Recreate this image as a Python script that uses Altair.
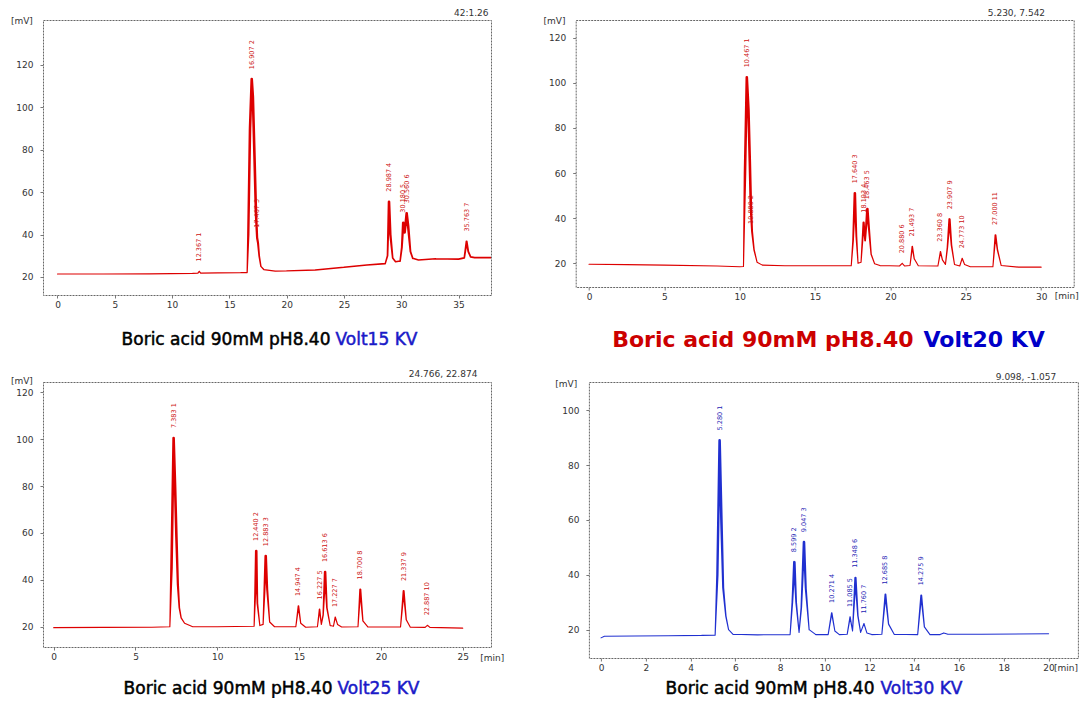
import altair as alt
import pandas as pd

FONT = "DejaVu Sans"
RED = "#dd0000"
BLUE = "#1a1ac8"
LBL_RED = "#cc1010"
LBL_BLUE = "#1a1ab4"

# ---------------- Panel 1 : Volt 15 KV ----------------
p1_time = [0, 4, 8, 11.8, 12.25, 12.37, 12.5, 14, 16.0, 16.55, 16.65, 16.8, 16.95, 17.05,
           17.2, 17.32, 17.42, 17.5, 17.6, 17.75, 18.0, 19.0, 20.0, 22.5, 25.0, 27.0, 28.6,
           28.8, 28.93, 29.05, 29.25, 29.5, 29.9, 30.05, 30.17, 30.3, 30.47, 30.6, 30.8,
           31.0, 31.5, 33.0, 35.0, 35.5, 35.7, 35.85, 36.05, 36.4, 37.9]
p1_mv = [21.4, 21.4, 21.5, 21.7, 21.8, 22.6, 21.8, 21.9, 22.0, 22.1, 40, 90, 113.3, 105,
         75, 50, 38.5, 36, 30, 25, 23.5, 22.8, 22.9, 23.3, 24.6, 25.7, 26.3,
         30, 55.5, 40, 29, 27.2, 27.5, 34, 45.6, 41, 50.0, 44, 32,
         28.8, 28.0, 28.6, 28.4, 29.0, 36.7, 32, 29.5, 29.1, 29.1]
p1_pk_time = [12.37, 16.95, 17.42, 28.93, 30.17, 30.47, 35.7]
p1_pk_mv = [22.6, 113.3, 38.5, 55.5, 45.6, 50.0, 36.7]
p1_pk_lbl = ["12.367  1", "16.907  2", "17.467  3", "28.987  4", "30.180  5",
             "30.560  6", "35.763  7"]
p1_xticks = [0, 5, 10, 15, 20, 25, 30, 35]
p1_yticks = [20, 40, 60, 80, 100, 120]

# ---------------- Panel 2 : Volt 20 KV ----------------
p2_time = [0, 2.5, 5, 8.5, 10.0, 10.25, 10.35, 10.47, 10.58, 10.67, 10.74, 10.82, 10.95,
           11.15, 11.5, 13, 15, 17.4, 17.52, 17.64, 17.74, 17.85, 18.05, 18.22, 18.32,
           18.47, 18.58, 18.72, 18.95, 19.3, 20.6, 20.78, 20.95, 21.3, 21.45, 21.58, 21.85,
           23.15, 23.32, 23.45, 23.65, 23.78, 23.92, 24.05, 24.25, 24.6, 24.76, 24.92, 25.3,
           26.8, 26.97, 27.1, 27.35, 28.5, 30]
p2_mv = [19.6, 19.4, 19.2, 18.8, 18.5, 18.6, 60, 102.4, 88, 65, 45, 34, 26,
         20.5, 19.2, 18.9, 18.9, 18.9, 30, 51.0, 32, 20, 20.5, 38, 30,
         44, 35, 24, 19.8, 19.0, 18.8, 20.0, 18.8, 19.0, 27.4, 22, 18.9,
         18.8, 25.1, 21.5, 19.5, 27, 39.5, 28, 19.5, 18.8, 22.2, 19.5, 18.5,
         18.5, 32.5, 26, 19.0, 18.3, 18.3]
p2_pk_time = [10.47, 10.78, 17.64, 18.22, 18.47, 20.78, 21.45, 23.32, 23.92, 24.76, 26.97]
p2_pk_mv = [102.4, 33, 51.0, 38, 44, 20.0, 27.4, 25.1, 39.5, 22.2, 32.5]
p2_pk_lbl = ["10.467  1", "10.880  2", "17.640  3", "18.193  4", "18.463  5", "20.880  6",
             "21.493  7", "23.360  8", "23.907  9", "24.773  10", "27.000  11"]
p2_xticks = [0, 5, 10, 15, 20, 25, 30]
p2_yticks = [20, 40, 60, 80, 100, 120]

# ---------------- Panel 3 : Volt 25 KV ----------------
p3_time = [0, 3, 6, 7.1, 7.2, 7.33, 7.42, 7.5, 7.59, 7.68, 7.79, 8.0, 8.5, 10, 12.25,
           12.32, 12.38, 12.45, 12.6, 12.8, 12.88, 12.96, 13.05, 13.2, 13.5, 14.8, 14.96,
           15.1, 15.4, 16.12, 16.25, 16.36, 16.47, 16.59, 16.7, 16.9, 17.1, 17.21, 17.35,
           17.6, 18.6, 18.74, 18.9, 19.2, 21.2, 21.39, 21.55, 21.8, 22.7, 22.84, 23.0, 25]
p3_mv = [19.6, 19.7, 19.8, 20.0, 45, 100.5, 80, 58.6, 38, 28, 23.8, 21.5, 20.0, 20.0, 20.2,
         35, 52.3, 30, 20.5, 21, 35, 50.1, 36, 22, 20.0, 20.0, 28.8,
         21.5, 19.8, 20.0, 27.4, 21, 25, 43.3, 28, 20.5, 20.2, 24.1, 21,
         19.9, 20.0, 35.9, 22.5, 19.9, 19.9, 35.2, 23, 19.8, 19.7, 20.6, 19.7, 19.4]
p3_pk_time = [7.33, 12.38, 12.96, 14.96, 16.25, 16.59, 17.21, 18.74, 21.39, 22.84]
p3_pk_mv = [100.5, 52.3, 50.1, 28.8, 27.4, 43.3, 24.1, 35.9, 35.2, 20.6]
p3_pk_lbl = ["7.383  1", "12.440  2", "12.883  3", "14.947  4", "16.227  5", "16.613  6",
             "17.227  7", "18.700  8", "21.337  9", "22.887  10"]
p3_xticks = [0, 5, 10, 15, 20, 25]
p3_yticks = [20, 40, 60, 80, 100, 120]

# ---------------- Panel 4 : Volt 30 KV ----------------
p4_time = [0, 0.15, 1.5, 3, 4.5, 5.1, 5.2, 5.3, 5.38, 5.46, 5.52, 5.58, 5.7, 5.9, 7, 8.45,
           8.55, 8.64, 8.72, 8.85, 8.95, 9.07, 9.15, 9.3, 9.6, 10.15, 10.31, 10.45, 10.65,
           11.0, 11.13, 11.24, 11.37, 11.48, 11.6, 11.75, 11.88, 12.1, 12.55, 12.71, 12.85,
           13.1, 14.15, 14.31, 14.45, 14.7, 15.15, 15.32, 15.5, 17, 20]
p4_mv = [17.0, 17.6, 17.7, 17.8, 17.9, 18.0, 40, 89.0, 60, 35.2, 30, 24.9, 20, 18.3, 18.1, 18.2,
         30, 44.6, 30, 19, 28, 51.9, 35, 20, 18.2, 18.2, 26.1, 19.5, 18.2,
         18.3, 24.6, 19.5, 38.9, 25, 19, 22.2, 18.8, 18.2, 18.3, 32.8, 22,
         18.3, 18.2, 32.5, 21, 18.2, 18.2, 18.8, 18.3, 18.3, 18.5]
p4_pk_time = [5.30, 8.64, 9.07, 10.31, 11.13, 11.37, 11.75, 12.71, 14.31]
p4_pk_mv = [89.0, 44.6, 51.9, 26.1, 24.6, 38.9, 22.2, 32.8, 32.5]
p4_pk_lbl = ["5.280  1", "8.599  2", "9.047  3", "10.271  4", "11.085  5", "11.348  6",
             "11.760  7", "12.685  8", "14.275  9"]
p4_xticks = [0, 2, 4, 6, 8, 10, 12, 14, 16, 18, 20]
p4_yticks = [20, 40, 60, 80, 100]

# Titles and cursor read-outs
titles_main = ["Boric acid 90mM pH8.40", "Boric acid 90mM pH8.40",
               "Boric acid 90mM pH8.40", "Boric acid 90mM pH8.40"]
titles_volt = ["Volt15 KV", "Volt20 KV", "Volt25 KV", "Volt30 KV"]
cursor_text = ["42:1.26", "5.230, 7.542", "24.766, 22.874", "9.098, -1.057"]

ONE = alt.Data(values=[{"k": 0}])


def note(text, x, y, align="left", size=9, color="#333", weight="normal",
         baseline="middle", stroke_w=0):
    kw = dict(text=text, align=align, baseline=baseline, fontSize=size, font=FONT,
              color=color, fontWeight=weight)
    if stroke_w:
        kw.update(stroke=color, strokeWidth=stroke_w)
    return alt.Chart(ONE).mark_text(**kw).encode(x=alt.value(x), y=alt.value(y))


def panel(time, mv, pk_t, pk_mv, pk_lbl, xdom, ydom, xticks, yticks, w, h,
          line_color, lbl_color, base_lo, extra):
    df = pd.DataFrame({"t": time, "mv": mv})
    pk = pd.DataFrame({"t": pk_t, "mv": pk_mv, "lbl": pk_lbl})
    xs = alt.Scale(domain=xdom, nice=False, zero=False)
    ys = alt.Scale(domain=ydom, nice=False, zero=False)
    trace = alt.Chart(df).mark_trail(color=line_color, clip=True).encode(
        x=alt.X("t:Q", scale=xs, axis=alt.Axis(values=xticks, title=None, labelPadding=2)),
        y=alt.Y("mv:Q", scale=ys, axis=alt.Axis(values=yticks, title=None, labelPadding=7)),
        size=alt.Size("mv:Q", scale=alt.Scale(domain=[base_lo, base_lo + 14],
                                              range=[1.1, 2.6], clamp=True), legend=None),
    )
    labels = alt.Chart(pk).mark_text(
        angle=270, align="left", baseline="middle", dx=10, fontSize=6.5,
        font=FONT, color=lbl_color
    ).encode(x="t:Q", y="mv:Q", text="lbl:N")
    return alt.layer(trace, labels, *extra).properties(width=w, height=h)


p1 = panel(p1_time, p1_mv, p1_pk_time, p1_pk_mv, p1_pk_lbl, [-1.265, 37.83], [11.5, 141.2],
           p1_xticks, p1_yticks, 448, 275, RED, LBL_RED, 30, [
               note(cursor_text[0], 445.5, -7.3, align="right"),
               note("[mV]", -32.1, 1),
               note(titles_main[0], 287.5, 325, align="right", size=17, color="#000",
                    baseline="alphabetic", stroke_w=0.5),
               note(titles_volt[0], 292.5, 325, size=17, color=BLUE, baseline="alphabetic",
                    stroke_w=0.5),
           ])

p2 = panel(p2_time, p2_mv, p2_pk_time, p2_pk_mv, p2_pk_lbl, [-0.883, 32.16], [9.5, 127.8],
           p2_xticks, p2_yticks, 498, 267, RED, LBL_RED, 21, [
               note(cursor_text[1], 469.4, -6.7, align="right"),
               note("[mV]", -32.2, 1),
               note("[min]", 503, 276, align="right"),
               note(titles_main[1], 337.8, 327, align="right", size=22, color="#cc0000",
                    weight="bold", baseline="alphabetic"),
               note(titles_volt[1], 347.8, 327, size=22, color="#0000c8", weight="bold",
                    baseline="alphabetic"),
           ])

p3 = panel(p3_time, p3_mv, p3_pk_time, p3_pk_mv, p3_pk_lbl, [-0.654, 26.73], [11.35, 124.4],
           p3_xticks, p3_yticks, 448, 265, RED, LBL_RED, 21, [
               note(cursor_text[2], 434.4, -8.2, align="right"),
               note("[mV]", -32.1, -0.8),
               note("[min]", 437.2, 275.8),
               note(titles_main[2], 289.5, 312, align="right", size=17, color="#000",
                    baseline="alphabetic", stroke_w=0.5),
               note(titles_volt[2], 294.5, 312, size=17, color=BLUE, baseline="alphabetic",
                    stroke_w=0.5),
           ])

p4 = panel(p4_time, p4_mv, p4_pk_time, p4_pk_mv, p4_pk_lbl, [-0.541, 21.31], [9.66, 110.3],
           p4_xticks, p4_yticks, 489, 276, "#2030d0", LBL_BLUE, 19.5, [
               note(cursor_text[3], 467.4, -5.5, align="right"),
               note("[mV]", -33.7, 1.8),
               note("[min]", 489, 286, align="right"),
               note(titles_main[3], 285.6, 312, align="right", size=17, color="#000",
                    baseline="alphabetic", stroke_w=0.5),
               note(titles_volt[3], 291.6, 312, size=17, color=BLUE, baseline="alphabetic",
                    stroke_w=0.5),
           ])

row1 = alt.hconcat(p1, p2, spacing=84.7, bounds="flush")
row2 = alt.hconcat(p3, p4, spacing=97.9, bounds="flush")

chart = alt.vconcat(row1, row2, spacing=17).properties(
    padding={"left": 2, "top": 0, "right": 0, "bottom": 0},
    background="white",
).configure_view(
    stroke="#666", strokeWidth=1, strokeDash=[2, 1]
).configure_axis(
    domain=False, grid=False, ticks=True, tickSize=3, tickColor="#777",
    labelFont=FONT, labelFontSize=9, labelColor="#333", labelFlush=False,
)

chart.save("out.html", embed_options={"renderer": "svg", "actions": False})
